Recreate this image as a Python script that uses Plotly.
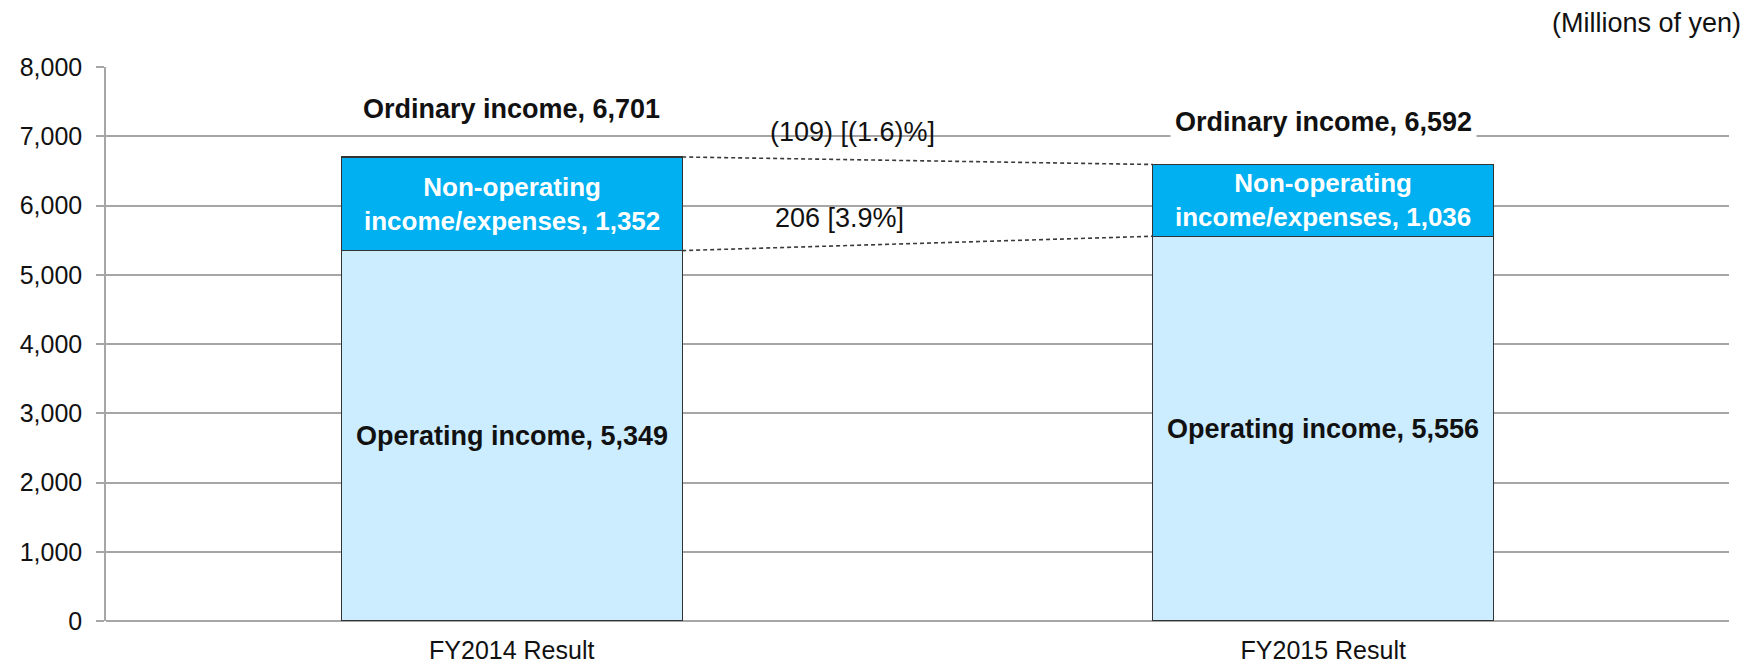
import plotly.graph_objects as go

categories = ["FY2014 Result", "FY2015 Result"]
operating_income = [5349, 5556]
non_operating = [1352, 1036]
ordinary_income = [6701, 6592]
change_labels = ["(109) [(1.6)%]", "206 [3.9%]"]
y_ticks = [0, 1000, 2000, 3000, 4000, 5000, 6000, 7000, 8000]

FONT = "Liberation Sans, Arial, sans-serif"
BAR_W = 0.42
x_pos = list(range(len(categories)))

fig = go.Figure()
fig.add_trace(go.Bar(
    x=x_pos, y=operating_income, width=BAR_W, name="Operating income",
    marker=dict(color="#CCECFF", line=dict(color="#333333", width=1.2)),
    hoverinfo="skip",
))
fig.add_trace(go.Bar(
    x=x_pos, y=non_operating, width=BAR_W, name="Non-operating income/expenses",
    marker=dict(color="#00B0F0", line=dict(color="#333333", width=1.2)),
    hoverinfo="skip",
))

# dashed connector lines between bars
for series in (ordinary_income, operating_income):
    fig.add_trace(go.Scatter(
        x=[x_pos[0] + BAR_W / 2, x_pos[1] - BAR_W / 2],
        y=[series[0], series[1]],
        mode="lines", line=dict(color="#3A3A3A", width=1.6, dash="4px,3px"),
        hoverinfo="skip", showlegend=False,
    ))

annotations = []
ord_shift = [48, 43]
for i, cat in enumerate(categories):
    annotations.append(dict(
        x=x_pos[i], y=ordinary_income[i], yshift=ord_shift[i],
        text=f"<b>Ordinary income, {ordinary_income[i]:,}</b>",
        showarrow=False, bgcolor="white", borderpad=4,
        font=dict(family=FONT, size=27, color="#111111"),
    ))
    annotations.append(dict(
        x=x_pos[i], y=operating_income[i] + non_operating[i] / 2,
        text=f"<b>Non-operating<br>income/expenses, {non_operating[i]:,}</b>",
        showarrow=False,
        font=dict(family=FONT, size=26, color="white"),
    ))
    annotations.append(dict(
        x=x_pos[i], y=operating_income[i] / 2,
        text=f"<b>Operating income, {operating_income[i]:,}</b>",
        showarrow=False,
        font=dict(family=FONT, size=27, color="#111111"),
    ))

# change annotations between bars
mid_x = (x_pos[0] + x_pos[1]) / 2 - 0.08
annotations.append(dict(
    x=mid_x, y=(ordinary_income[0] + ordinary_income[1]) / 2, yshift=29,
    text=change_labels[0], showarrow=False,
    font=dict(family=FONT, size=27, color="#111111"),
))
annotations.append(dict(
    x=mid_x - 0.016, y=(operating_income[0] + operating_income[1]) / 2, yshift=25,
    text=change_labels[1], showarrow=False,
    font=dict(family=FONT, size=27, color="#111111"),
))
annotations.append(dict(
    x=1, y=1, xref="paper", yref="paper", xanchor="right", yanchor="bottom",
    yshift=27, xshift=14,
    text="(Millions of yen)", showarrow=False,
    font=dict(family=FONT, size=27, color="#111111"),
))

fig.update_layout(
    width=1746, height=664,
    barmode="stack", showlegend=False,
    plot_bgcolor="white", paper_bgcolor="white",
    margin=dict(l=106, r=17, t=67, b=43),
    font=dict(family=FONT, size=25, color="#111111"),
    annotations=annotations,
    xaxis=dict(
        range=[-0.5, 1.5], tickvals=x_pos, ticktext=categories,
        showgrid=False, zeroline=False, showline=False, ticks="",
        tickfont=dict(family=FONT, size=25, color="#111111"),
        ticklabelstandoff=12, automargin=False,
    ),
    yaxis=dict(
        range=[0, 8000], tickvals=y_ticks, tickformat=",d",
        showgrid=True, gridcolor="#A6A6A6", gridwidth=1.5,
        zeroline=True, zerolinecolor="#A6A6A6", zerolinewidth=1.5,
        showline=True, linecolor="#A6A6A6", linewidth=1.5,
        ticks="outside", ticklen=8, tickcolor="#A6A6A6", tickwidth=1.5,
        tickfont=dict(family=FONT, size=25, color="#111111"),
        ticklabelstandoff=9, automargin=False,
    ),
)

fig.write_html(
    "out.html",
    config={"displayModeBar": False},
    post_script="document.body.style.margin='0px';",
)
